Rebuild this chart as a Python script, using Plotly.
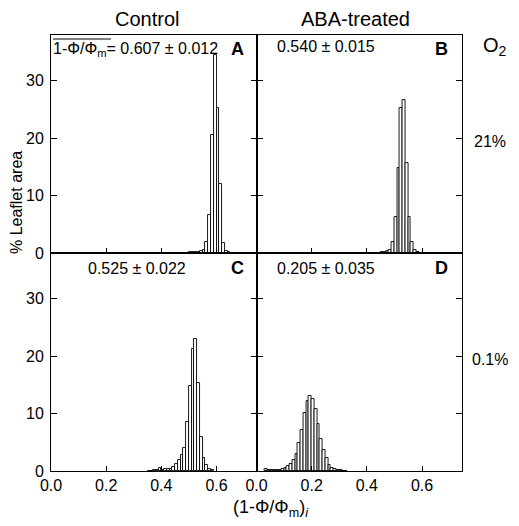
import plotly.graph_objects as go
from plotly.subplots import make_subplots

# ---- data (bin centers, % leaflet area) ----
a_x = [0.455, 0.465, 0.475, 0.485, 0.495, 0.505, 0.515, 0.525, 0.535, 0.545, 0.555, 0.565, 0.575, 0.585, 0.595, 0.605, 0.615, 0.625, 0.635, 0.645]
a_y = [0.05, 0.05, 0.05, 0.05, 0.05, 0.1, 0.1, 0.1, 0.15, 0.3, 0.6, 2.0, 6.6, 20.5, 34.6, 25.2, 12.0, 1.7, 0.3, 0.1]

b_x = [0.435, 0.445, 0.455, 0.465, 0.475, 0.485, 0.495, 0.505, 0.515, 0.525, 0.535, 0.545, 0.555, 0.565, 0.575, 0.585]
b_y = [0.05, 0.05, 0.1, 0.15, 0.3, 0.6, 1.9, 6.3, 14.8, 25.2, 26.6, 15.7, 6.3, 1.9, 0.5, 0.2]

c_x = [0.355, 0.365, 0.375, 0.385, 0.395, 0.405, 0.415, 0.425, 0.435, 0.445, 0.455, 0.465, 0.475, 0.485, 0.495, 0.505, 0.515, 0.525, 0.535, 0.545, 0.555, 0.565, 0.575, 0.585]
c_y = [0.05, 0.05, 0.1, 0.1, 0.6, 0.2, 0.3, 0.3, 0.4, 0.7, 1.2, 1.9, 2.8, 4.0, 8.6, 14.8, 21.3, 23.0, 15.4, 5.9, 2.3, 1.0, 0.4, 0.1]

d_x = [0.035, 0.045, 0.055, 0.065, 0.075, 0.085, 0.095, 0.105, 0.115, 0.125, 0.135, 0.145, 0.155, 0.165, 0.175, 0.185, 0.195, 0.205, 0.215, 0.225, 0.235, 0.245, 0.255, 0.265, 0.275, 0.285, 0.295, 0.305, 0.315, 0.325]
d_y = [0.4, 0.1, 0.1, 0.1, 0.15, 0.2, 0.3, 0.6, 0.9, 1.3, 1.9, 3.0, 4.9, 7.1, 10.1, 12.2, 13.0, 12.5, 10.8, 8.2, 5.5, 3.6, 2.2, 1.0, 0.6, 0.3, 0.2, 0.1, 0.05, 0.05]

col_titles = ["Control", "ABA-treated"]
stats = ["0.607 ± 0.012", "0.540 ± 0.015", "0.525 ± 0.022", "0.205 ± 0.035"]
panel_letters = ["A", "B", "C", "D"]
o2_labels = ["21%", "0.1%"]
x_ticks = [0.0, 0.2, 0.4, 0.6]
x_ticklabels = ["0.0", "0.2", "0.4", "0.6"]
y_ticks = [0, 10, 20, 30]

FONT = "Liberation Sans, Arial, Helvetica, sans-serif"
OFF = 8  # page body margin in the browser
W, H = 519 - OFF, 526 - OFF
L, R, T, B = 51 - OFF, 57, 35 - OFF, 55
PW, PH = W - L - R, H - T - B

def px(x):
    return (x - OFF - L) / PW

def py(y):
    return (H - B - (y - OFF)) / PH

fig = make_subplots(rows=2, cols=2, horizontal_spacing=0, vertical_spacing=0)

series = [(a_x, a_y, 1, 1), (b_x, b_y, 1, 2), (c_x, c_y, 2, 1), (d_x, d_y, 2, 2)]
for xs, ys, r, c in series:
    fig.add_trace(go.Bar(x=xs, y=ys, width=0.01,
                         marker=dict(color="white", line=dict(color="black", width=0.9)),
                         showlegend=False), row=r, col=c)

for r in (1, 2):
    for c in (1, 2):
        fig.update_xaxes(range=[0, 0.745], tickvals=x_ticks, ticktext=x_ticklabels,
                         ticks="inside", ticklen=5, tickcolor="black",
                         showline=True, linecolor="black", linewidth=1, mirror=True,
                         showgrid=False, zeroline=False,
                         showticklabels=(r == 2),
                         tickfont=dict(family=FONT, size=16, color="black"),
                         row=r, col=c)
        fig.update_yaxes(range=[0, 38], tickvals=y_ticks,
                         ticks="inside", ticklen=6, tickcolor="black",
                         showline=True, linecolor="black", linewidth=1, mirror="ticks",
                         showgrid=False, zeroline=False,
                         showticklabels=(c == 1), ticklabelstandoff=3,
                         tickfont=dict(family=FONT, size=16, color="black"),
                         row=r, col=c)

ann = []
def text(x, y, s, size=15, xanchor="center", bold=False):
    if bold:
        s = "<b>" + s + "</b>"
    ann.append(dict(x=px(x), y=py(y), xref="paper", yref="paper", text=s, showarrow=False,
                    xanchor=xanchor, yanchor="middle",
                    font=dict(family=FONT, size=size, color="black")))

text(147, 19, col_titles[0], size=20)
text(355, 19, col_titles[1], size=20)
text(51, 49, "1-Φ/Φ<sub>m</sub>= " + stats[0], size=16, xanchor="left")
text(275, 47, stats[1], size=16, xanchor="left")
text(86, 268, stats[2], size=16, xanchor="left")
text(275, 268, stats[3], size=16, xanchor="left")
text(237, 49, panel_letters[0], size=18, bold=True)
text(441, 49, panel_letters[1], size=18, bold=True)
text(237, 268, panel_letters[2], size=18, bold=True)
text(441, 268, panel_letters[3], size=18, bold=True)
text(495, 47, "O<sub>2</sub>", size=20)
text(490, 141, o2_labels[0], size=16)
text(490, 359, o2_labels[1], size=16)
text(271, 508, "(1-Φ/Φ<sub>m</sub>)<sub><i>i</i></sub>", size=18)
ann.append(dict(x=px(16), y=py(203), xref="paper", yref="paper", text="% Leaflet area",
                showarrow=False, textangle=-90, xanchor="center", yanchor="middle",
                font=dict(family=FONT, size=16, color="black")))

fig.update_layout(
    width=W, height=H,
    margin=dict(l=L, r=R, t=T, b=B),
    paper_bgcolor="white", plot_bgcolor="white",
    bargap=0, annotations=ann,
    shapes=[dict(type="line", xref="paper", yref="paper",
                 x0=px(53), x1=px(111), y0=py(39), y1=py(39),
                 line=dict(color="black", width=1))],
)

fig.write_html("out.html")
